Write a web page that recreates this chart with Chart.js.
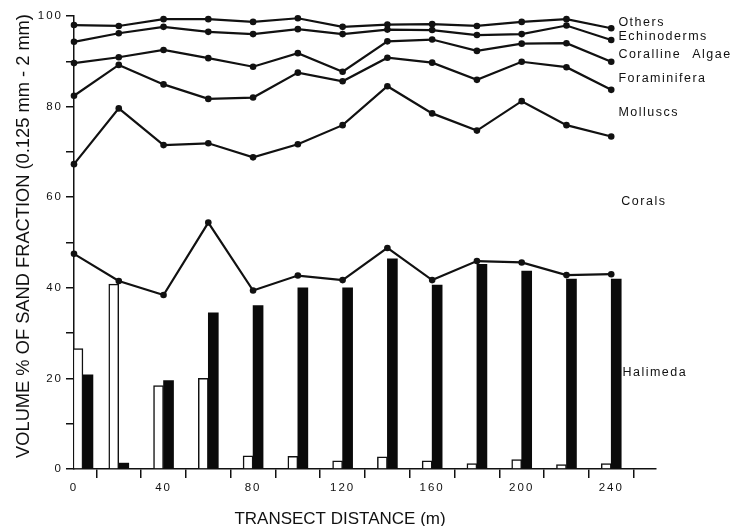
<!DOCTYPE html>
<html>
<head>
<meta charset="utf-8">
<script src="https://cdn.jsdelivr.net/npm/chart.js@4.4.1/dist/chart.umd.min.js"></script>
<style>
html,body{margin:0;padding:0;background:#fff;}
#wrap{width:748px;height:526px;position:relative;}
</style>
</head>
<body>
<div id="wrap"><canvas id="c" width="748" height="526"></canvas></div>
<script>
// Transect distance (m)
const distances = [0,20,40,60,80,100,120,140,160,180,200,220,240];
// bar positions (first pair sits just right of the axis)
const barPositions = [4,20,40,60,80,100,120,140,160,180,200,220,240];

// cumulative upper boundaries (volume %)
const halimedaTop     = [47.5,41.5,38.4,54.4,39.4,42.7,41.7,48.8,41.7,45.9,45.6,42.8,43.0];
const molluscsTop     = [67.3,79.6,71.5,71.9,68.8,71.7,75.9,84.5,78.5,74.7,81.2,75.9,73.4];
const foraminiferaTop = [82.4,89.2,84.9,81.7,82.0,87.5,85.6,90.8,89.7,85.9,89.9,88.7,83.7];
const corallineTop    = [89.6,90.9,92.5,90.7,88.8,91.8,87.7,94.4,94.8,92.3,93.9,94.0,89.9];
const echinodermsTop  = [94.3,96.2,97.6,96.5,96.0,97.1,96.0,97.0,96.9,95.8,96.0,97.9,94.7];
const othersTop       = [98.0,97.8,99.3,99.3,98.7,99.5,97.6,98.1,98.2,97.8,98.7,99.3,97.3];

// bars (volume %)
const openBars  = [26.6,40.8,18.4,20.0,2.9,2.8,1.8,2.7,1.8,1.2,2.1,1.0,1.2];
const solidBars = [20.8,1.3,19.5,34.5,36.1,40.0,40.0,46.4,40.6,45.2,43.7,41.9,41.9];

// right-hand labels and where they sit (data units)
const labelNames = ["Others","Echinoderms","Coralline Algae","Foraminifera","Molluscs","Corals","Halimeda"];
const labelX     = [243.2,243.2,243.2,243.2,243.2,244.5,245];
const labelY     = [98.5,95.4,91.5,86.1,78.7,59.0,21.3];

const xTitle = "TRANSECT DISTANCE (m)";
const yTitle = "VOLUME % OF SAND FRACTION (0.125 mm - 2 mm)";

const FONT = "'Liberation Sans', Arial, Helvetica, sans-serif";

function pts(arr, xs){ return arr.map((v,i)=>({x:xs[i], y:v})); }

function lineDs(arr){
  return {
    type:'line',
    data: pts(arr, distances),
    borderColor:'#111',
    backgroundColor:'#111',
    borderWidth:2.2,
    pointRadius:3.3,
    pointBackgroundColor:'#111',
    pointBorderWidth:0,
    tension:0,
    fill:false,
    order:1,
    clip:false
  };
}

const spacingPlugin = {
  id:'spacing',
  beforeDraw(chart){
    chart.ctx.letterSpacing = '2px';
  },
  afterDraw(chart){
    const ctx = chart.ctx;
    const xs = chart.scales.x, ys = chart.scales.y;
    ctx.save();
    // series labels
    ctx.fillStyle = '#111';
    ctx.font = '12.5px ' + FONT;
    ctx.letterSpacing = '1.5px';
    try { ctx.wordSpacing = '6px'; } catch(e){}
    ctx.textAlign = 'left';
    ctx.textBaseline = 'middle';
    labelNames.forEach((n,i)=>{
      ctx.fillText(n, xs.getPixelForValue(labelX[i]), ys.getPixelForValue(labelY[i]));
    });
    try { ctx.wordSpacing = '0px'; } catch(e){}
    // x title
    ctx.letterSpacing = '0px';
    ctx.font = '17px ' + FONT;
    ctx.fillStyle = '#111';
    ctx.textAlign = 'center';
    ctx.textBaseline = 'alphabetic';
    ctx.fillText(xTitle, 340, 524);
    // y title
    ctx.translate(29, 236);
    ctx.rotate(-Math.PI/2);
    ctx.font = '18.3px ' + FONT;
    ctx.fillText(yTitle, 0, 0);
    ctx.restore();
  }
};

new Chart(document.getElementById('c'), {
  type:'line',
  data:{
    datasets:[
      lineDs(othersTop),
      lineDs(echinodermsTop),
      lineDs(corallineTop),
      lineDs(foraminiferaTop),
      lineDs(molluscsTop),
      lineDs(halimedaTop),
      {
        type:'bar',
        data: pts(openBars, barPositions),
        backgroundColor:'#fff',
        borderColor:'#111',
        borderWidth:1.5,
        barThickness:10,
        order:2
      },
      {
        type:'bar',
        data: pts(solidBars, barPositions),
        backgroundColor:'#0a0a0a',
        borderColor:'#0a0a0a',
        borderWidth:0,
        barThickness:10,
        order:2
      }
    ]
  },
  options:{
    responsive:false,
    animation:false,
    events:[],
    layout:{padding:{left:0,top:16,right:92,bottom:0}},
    plugins:{legend:{display:false},tooltip:{enabled:false},title:{display:false}},
    scales:{
      x:{
        type:'linear',
        min:0,max:260,
        offset:false,
        afterFit(s){ s.height = 57; },
        border:{display:true,color:'#111',width:1.5},
        grid:{drawOnChartArea:false,drawTicks:true,tickLength:9,color:'#111',lineWidth:1.5},
        ticks:{
          stepSize:20,
          autoSkip:false,
          maxRotation:0,
          padding:3,
          color:'#111',
          font:{family:FONT,size:11.5},
          callback:(v)=> (v%40===0 && v<=240) ? String(v) : ''
        }
      },
      y:{
        min:0,max:100,
        afterFit(s){ s.width = 74; },
        border:{display:true,color:'#111',width:1.5},
        grid:{drawOnChartArea:false,drawTicks:true,tickLength:8,color:'#111',lineWidth:1.5},
        ticks:{
          stepSize:10,
          autoSkip:false,
          padding:3,
          color:'#111',
          font:{family:FONT,size:11.5},
          callback:(v)=> (v%20===0) ? String(v) : ''
        }
      }
    }
  },
  plugins:[spacingPlugin]
});
</script>
</body>
</html>
